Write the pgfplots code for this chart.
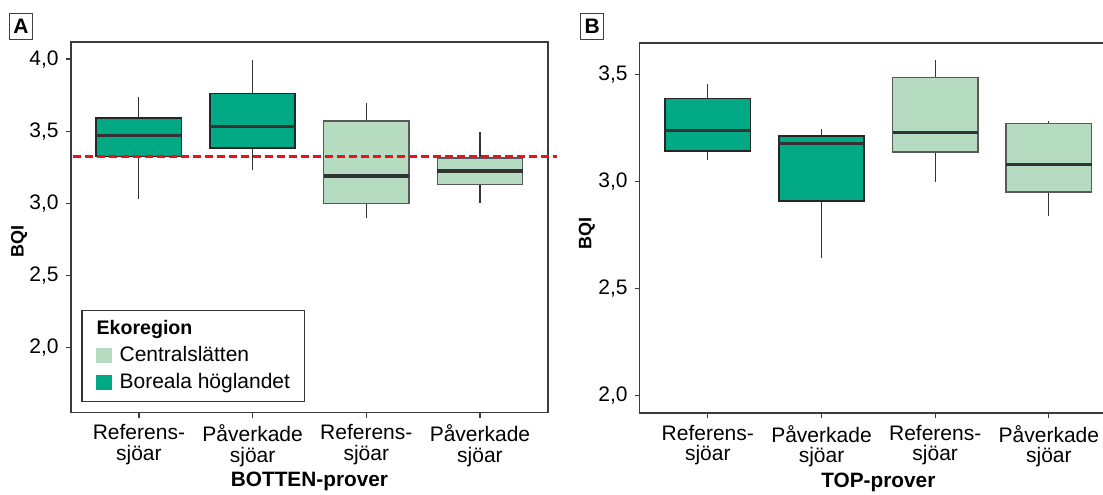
\documentclass[border=0pt]{standalone}
\usepackage{pgfplots}
\pgfplotsset{compat=1.18}
\usepgfplotslibrary{statistics}
\usepackage{fontspec}
\setmainfont{Liberation Sans}
\definecolor{boreal}{RGB}{0,168,132}
\definecolor{central}{RGB}{181,219,192}
\definecolor{refred}{RGB}{232,18,30}
\definecolor{axgray}{RGB}{60,60,60}

\pgfplotsset{
  panel/.style={
    scale only axis,
    axis line style={draw=axgray, line width=0.8pt},
    tick style={draw=axgray, line width=0.6pt},
    tick align=outside,
    major tick length=2.5pt,
    xtick pos=bottom, ytick pos=left,
    xtick={1,2,3,4},
    xticklabels={{Referens-\\sjöar},{Påverkade\\sjöar},{Referens-\\sjöar},{Påverkade\\sjöar}},
    x tick label style={align=center, font=\fontsize{10.5}{10.35}\selectfont},
    y tick label style={font=\fontsize{10.5}{12}\selectfont},
    /pgf/number format/.cd, fixed, fixed zerofill, precision=1, use comma, assume math mode=true,
    /pgfplots/.cd,
    xlabel style={font=\bfseries\fontsize{10.4}{12}\selectfont, anchor=center},
    ylabel style={font=\bfseries\fontsize{9}{10}\selectfont, anchor=center, rotate=0},
    boxplot/draw direction=y,
    clip=false,
    width=238.75pt,
    xmin=0.4, xmax=4.6,
  },
  darkbox/.style={
    boxplot/every box/.style={draw=black!85, fill=boreal, line width=0.8pt},
    boxplot/every median/.style={draw=black!80, line width=1.6pt},
    boxplot/every whisker/.style={draw=black!80, line width=0.55pt},
  },
  lightbox/.style={
    boxplot/every box/.style={draw=black!65, fill=central, line width=0.8pt},
    boxplot/every median/.style={draw=black!80, line width=1.6pt},
    boxplot/every whisker/.style={draw=black!80, line width=0.55pt},
  },
}

\begin{document}
\begin{tikzpicture}
% Panel A
\begin{axis}[panel,
  at={(35.35pt,40.75pt)}, anchor=south west,
  height=185.4pt,
  ymin=1.551, ymax=4.12,
  ytick={2,2.5,3,3.5,4},
  xlabel={BOTTEN-prover},
  xlabel style={at={(axis description cs:0.5,-0.187)}},
  ylabel={BQI},
  ylabel style={at={(axis description cs:-0.108,0.46)}},
  legend style={at={(axis description cs:0.0224,0.029)}, anchor=south west,
    draw=black!80, line width=0.6pt, fill=white,
    font=\fontsize{10.5}{12}\selectfont,
    nodes={inner sep=0pt, text height=8pt, text depth=2.5pt},
    row sep=3pt, column sep=3.8pt, inner xsep=7.2pt, inner ysep=4pt},
  legend cell align=left,
  legend image code/.code={\fill[#1] (0pt,-3.6pt) rectangle (7.2pt,3.6pt);},
]
\addlegendimage{empty legend}
\addlegendentry{\hspace*{-11.5pt}\fontsize{9.8}{12}\selectfont\bfseries Ekoregion}
\addlegendimage{central}
\addlegendentry{Centralslätten}
\addlegendimage{boreal}
\addlegendentry{Boreala höglandet}

\addplot[darkbox, forget plot, boxplot prepared={draw position=1, lower whisker=3.03, lower quartile=3.326, median=3.47, upper quartile=3.591, upper whisker=3.737, box extend=0.75, whisker extend=0}] coordinates {};
\addplot[darkbox, forget plot, boxplot prepared={draw position=2, lower whisker=3.231, lower quartile=3.382, median=3.532, upper quartile=3.762, upper whisker=3.996, box extend=0.75, whisker extend=0}] coordinates {};
\addplot[lightbox, forget plot, boxplot prepared={draw position=3, lower whisker=2.902, lower quartile=3.0, median=3.19, upper quartile=3.569, upper whisker=3.695, box extend=0.75, whisker extend=0}] coordinates {};
\addplot[lightbox, forget plot, boxplot prepared={draw position=4, lower whisker=3.0, lower quartile=3.132, median=3.224, upper quartile=3.314, upper whisker=3.497, box extend=0.75, whisker extend=0}] coordinates {};
\addplot[forget plot, refred, line width=1.25pt, dash pattern=on 3.85pt off 2.15pt] coordinates {(0.42,3.324) (4.675,3.324)};
\end{axis}

% Panel B
\begin{axis}[panel,
  at={(319.8pt,40.5pt)}, anchor=south west,
  height=185.15pt,
  ymin=1.917, ymax=3.65,
  ytick={2,2.5,3,3.5},
  xlabel={TOP-prover},
  xlabel style={at={(axis description cs:0.5,-0.187)}},
  ylabel={BQI},
  ylabel style={at={(axis description cs:-0.1106,0.485)}},
]
\addplot[darkbox, boxplot prepared={draw position=1, lower whisker=3.10, lower quartile=3.142, median=3.24, upper quartile=3.388, upper whisker=3.457, box extend=0.75, whisker extend=0}] coordinates {};
\addplot[darkbox, boxplot prepared={draw position=2, lower whisker=2.642, lower quartile=2.91, median=3.179, upper quartile=3.214, upper whisker=3.248, box extend=0.75, whisker extend=0}] coordinates {};
\addplot[lightbox, boxplot prepared={draw position=3, lower whisker=3.0, lower quartile=3.139, median=3.229, upper quartile=3.488, upper whisker=3.567, box extend=0.75, whisker extend=0}] coordinates {};
\addplot[lightbox, boxplot prepared={draw position=4, lower whisker=2.841, lower quartile=2.952, median=3.079, upper quartile=3.271, upper whisker=3.285, box extend=0.75, whisker extend=0}] coordinates {};
\end{axis}

\node[draw=black!75, line width=0.5pt, minimum width=11.85pt, minimum height=13.35pt, inner sep=0pt, font=\bfseries\fontsize{10.5}{12}\selectfont] at (10.43pt,233.7pt) {A};
\node[draw=black!75, line width=0.5pt, minimum width=11.4pt, minimum height=13.35pt, inner sep=0pt, font=\bfseries\fontsize{10.5}{12}\selectfont] at (296.1pt,233.7pt) {B};

\pgfresetboundingbox
\path[use as bounding box] (0pt,0pt) rectangle (551.5pt,247pt);
\end{tikzpicture}
\end{document}
